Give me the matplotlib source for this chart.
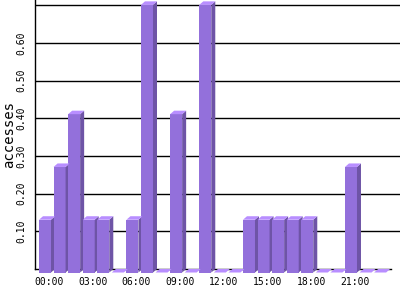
import matplotlib
matplotlib.use("Agg")
import matplotlib.pyplot as plt
from matplotlib.patches import Polygon

# accesses per hour
hours = list(range(24))
accesses = [0.14, 0.28, 0.42, 0.14, 0.14, 0.0, 0.14, 0.71, 0.0, 0.42, 0.0, 0.71,
            0.0, 0.0, 0.14, 0.14, 0.14, 0.14, 0.14, 0.0, 0.0, 0.28, 0.0, 0.0]
tick_pos = [0, 3, 6, 9, 12, 15, 18, 21]
tick_labels = ["00:00", "03:00", "06:00", "09:00", "12:00", "15:00", "18:00", "21:00"]
grid_levels = [0.1, 0.2, 0.3, 0.4, 0.5, 0.6, 0.7]
ytick_vals = [0.1, 0.2, 0.3, 0.4, 0.5, 0.6]
ytick_labels = ["0.10", "0.20", "0.30", "0.40", "0.50", "0.60"]

front_col = "#9370db"
side_col = "#6e54a6"
top_col = "#b88eff"

fig = plt.figure(figsize=(4, 3), dpi=100)
ax = fig.add_axes([35 / 400, 31 / 300, 365 / 400, 269 / 300])
ax.set_xlim(-0.961, 24.09)
ax.set_ylim(0, 0.7136)

# grid lines behind bars
ax.hlines(grid_levels, -0.961, 24.09, colors="black", linewidth=1.0, zorder=1)

# 3d-ish bars: back face at data coords, front shifted down-left
w = 0.824
dx = 0.2745
dy = 0.0093
for h, v in zip(hours, accesses):
    x0 = h - w / 2
    x1 = h + w / 2
    if v > 0:
        ax.bar(h - dx, v, width=w, bottom=-dy, color=front_col, linewidth=0,
               zorder=3, clip_on=False)
        side = [(x1 - dx, -dy), (x1 - dx, v - dy), (x1, v), (x1, 0)]
        ax.add_patch(Polygon(side, closed=True, facecolor=side_col,
                             edgecolor="none", zorder=3, clip_on=False))
    top = [(x0 - dx, v - dy), (x1 - dx, v - dy), (x1, v), (x0, v)]
    ax.add_patch(Polygon(top, closed=True, facecolor=top_col,
                         edgecolor="none", zorder=4, clip_on=False))

for s in ["top", "right"]:
    ax.spines[s].set_visible(False)
ax.spines["left"].set_linewidth(1.0)
ax.spines["bottom"].set_linewidth(1.0)
ax.spines["bottom"].set_bounds(-0.961, 23.47)
ax.spines["bottom"].set_zorder(2)

ax.set_xticks(tick_pos)
ax.set_xticklabels(tick_labels, fontfamily="DejaVu Sans Mono", fontsize=7)
ax.set_yticks(ytick_vals)
ax.set_yticklabels(ytick_labels, fontfamily="DejaVu Sans Mono", fontsize=7,
                   rotation=90, va="center")
ax.tick_params(axis="x", length=0, pad=6)
ax.tick_params(axis="y", length=0, pad=6.5)

fig.text(9 / 400, 1 - 134.5 / 300, "accesses", rotation=90, ha="center",
         va="center", fontfamily="DejaVu Sans Mono", fontsize=10)

fig.savefig("out.png", dpi=100)
